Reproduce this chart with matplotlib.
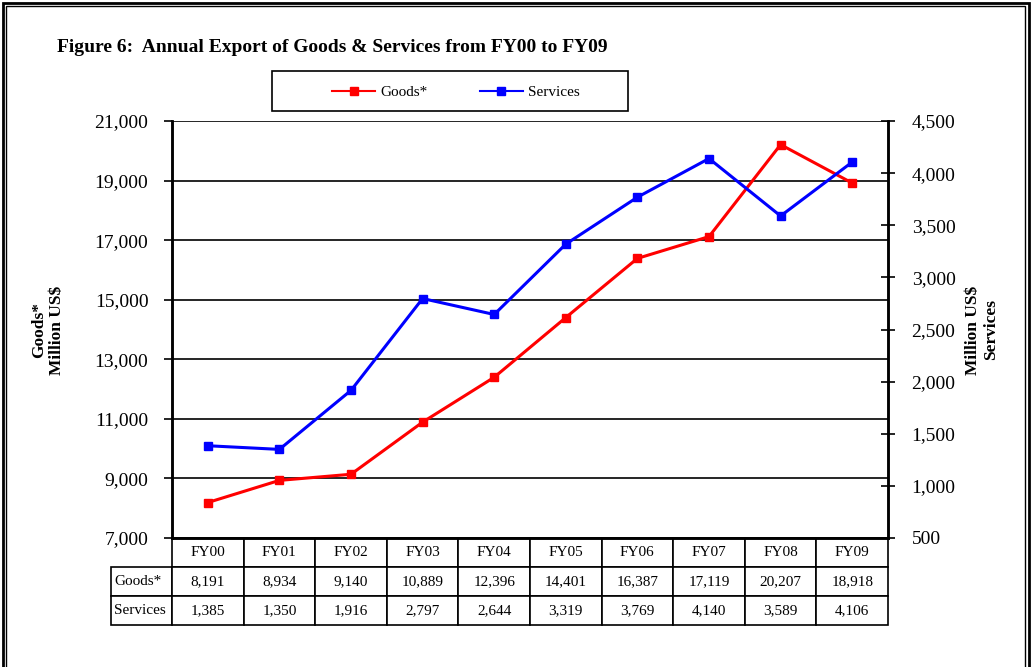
import matplotlib.pyplot as plt
from matplotlib.patches import Rectangle
from matplotlib.table import Table
from matplotlib.ticker import FuncFormatter

years = ["FY00", "FY01", "FY02", "FY03", "FY04", "FY05", "FY06", "FY07", "FY08", "FY09"]
goods = [8191, 8934, 9140, 10889, 12396, 14401, 16387, 17119, 20207, 18918]
services = [1385, 1350, 1916, 2797, 2644, 3319, 3769, 4140, 3589, 4106]

plt.rcParams["font.family"] = ["Liberation Serif", "DejaVu Serif"]

W, H = 1031, 667
fig = plt.figure(figsize=(W / 100, H / 100), dpi=100)

# plot area in pixels of the reference
L, R, T, B = 172, 888, 121, 538
ax = fig.add_axes([L / W, 1 - B / H, (R - L) / W, (B - T) / H])
ax2 = ax.twinx()

x = range(len(years))
ax.plot(x, goods, color="#ff0000", lw=2.2, marker="s", ms=6, label="Goods*", zorder=3)
ax2.plot(x, services, color="#0000ff", lw=2.2, marker="s", ms=6, label="Services", zorder=3)

ax.set_xlim(-0.5, len(years) - 0.5)
ax.set_ylim(7000, 21000)
ax2.set_ylim(500, 4500)
ax.set_yticks(range(7000, 21001, 2000))
ax2.set_yticks(range(500, 4501, 500))
fmt = FuncFormatter(lambda v, p: f"{v:,.0f}")
ax.yaxis.set_major_formatter(fmt)
ax2.yaxis.set_major_formatter(fmt)
ax.set_xticks([])

ax.yaxis.grid(True, color="black", lw=1.2)
for a in (ax, ax2):
    a.spines["top"].set_visible(False)
    for s in ("left", "right", "bottom"):
        a.spines[s].set_linewidth(1.8)
ax.tick_params(axis="y", direction="out", length=6, width=1.2, labelsize=14, pad=11)
ax2.tick_params(axis="y", direction="inout", length=10, width=1.2, labelsize=14, pad=12)

# axis titles
fig.text(48 / W, 1 - 330 / H, "Goods*\nMillion US$", rotation=90, ha="center", va="center",
         multialignment="center", fontsize=12.5, fontweight="bold", linespacing=1.1)
fig.text(982 / W, 1 - 330 / H, "Million US$\nServices", rotation=90, ha="center", va="center",
         multialignment="center", fontsize=12.5, fontweight="bold", linespacing=1.1)

# data table under the plot
pw = R - L
tbl = Table(ax, bbox=[(111 - L) / pw, -(625 - B) / (B - T), (R - 111) / pw, (625 - B) / (B - T)])
colw = pw / len(years)
for c, yr in enumerate(years):
    tbl.add_cell(0, c + 1, width=colw, height=1, text=yr, loc="center")
for r, (name, vals) in enumerate([("Goods*", goods), ("Services", services)], start=1):
    tbl.add_cell(r, 0, width=L - 111, height=1, text=name, loc="left")
    for c, v in enumerate(vals):
        tbl.add_cell(r, c + 1, width=colw, height=1, text=f"{v:,}", loc="center")
tbl.auto_set_font_size(False)
tbl.set_fontsize(11)
for (r, c), cell in tbl.get_celld().items():
    cell.set_linewidth(1.2)
    cell.PAD = 0.05
ax.add_table(tbl)

# legend
h1, l1 = ax.get_legend_handles_labels()
h2, l2 = ax2.get_legend_handles_labels()
leg = fig.legend(h1 + h2, l1 + l2, loc="center", bbox_to_anchor=(456 / W, 1 - 92 / H), ncol=2,
                 frameon=False, fontsize=11, handlelength=2.8, handletextpad=0.35,
                 columnspacing=3.4)
for ln in leg.get_lines():
    ln.set_linewidth(1.5)
fig.add_artist(Rectangle((272 / W, 1 - 111 / H), 356 / W, 40 / H, transform=fig.transFigure,
                         fill=False, edgecolor="black", lw=1.2))

fig.text(57 / W, 1 - 48 / H, "Figure 6:  Annual Export of Goods & Services from FY00 to FY09",
         ha="left", va="center", fontsize=14, fontweight="bold")

# outer double frame
fig.add_artist(Rectangle((2.5 / W, -0.1), (W - 5) / W, 1.1 - 2.5 / H, transform=fig.transFigure,
                         fill=False, edgecolor="black", lw=2))
fig.add_artist(Rectangle((6 / W, -0.1), (W - 12) / W, 1.1 - 6 / H, transform=fig.transFigure,
                         fill=False, edgecolor="black", lw=1))

fig.savefig("out.png", dpi=100)
